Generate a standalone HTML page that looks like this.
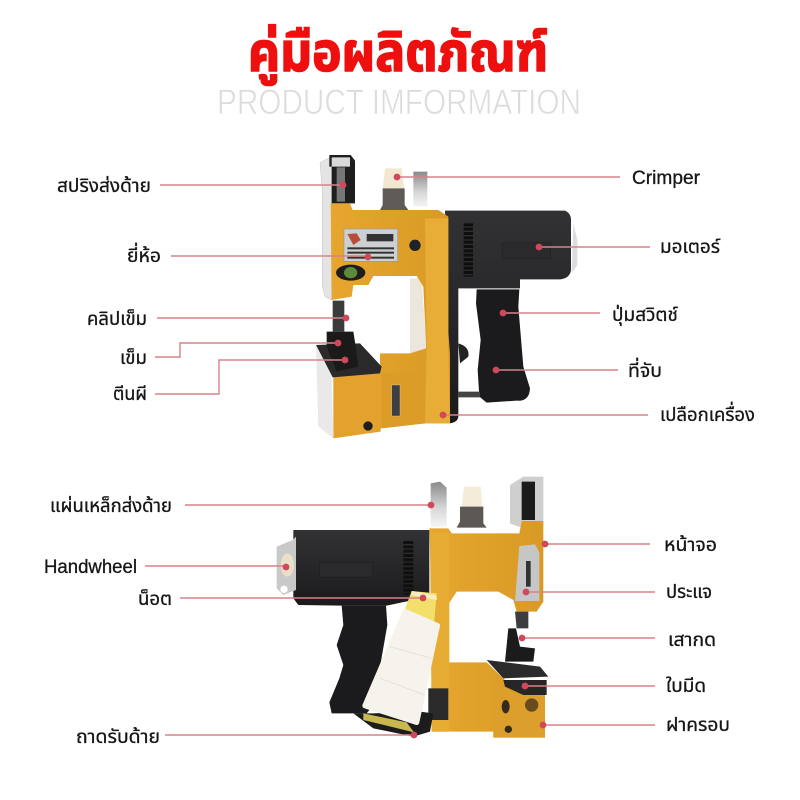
<!DOCTYPE html>
<html lang="th"><head><meta charset="utf-8"><title>คู่มือผลิตภัณฑ์</title>
<style>html,body{margin:0;padding:0;background:#fff}svg{display:block}
.l{font-family:"Liberation Sans","Noto Sans Thai","Noto Sans CJK SC",sans-serif;font-size:19px;fill:#161616;stroke:#161616;stroke-width:.3}
</style></head><body>
<svg xmlns="http://www.w3.org/2000/svg" width="800" height="800" viewBox="0 0 800 800">
<defs>
<linearGradient id="s" x1="0" y1="0" x2="0" y2="1"><stop offset="0" stop-color="#8a8a8a"/><stop offset=".6" stop-color="#d8d8d8"/><stop offset="1" stop-color="#f5f5f5"/></linearGradient>
<linearGradient id="b" x1="0" y1="0" x2="0" y2="1"><stop offset="0" stop-color="#323234"/><stop offset=".7" stop-color="#222224"/><stop offset="1" stop-color="#1a1a1c"/></linearGradient>
<linearGradient id="y" x1="0" y1="0" x2="1" y2="0"><stop offset="0" stop-color="#e6a62f"/><stop offset="1" stop-color="#d99a25"/></linearGradient>
</defs>
<rect width="800" height="800" fill="#fff"/>
<text x="398" y="71" text-anchor="middle" font-family="Liberation Sans,Noto Sans Thai,sans-serif" font-size="54" font-weight="bold" fill="#ee0f0f" stroke="#ee0f0f" stroke-width="1.6" textLength="300" lengthAdjust="spacingAndGlyphs">คู่มือผลิตภัณฑ์</text>
<text x="217" y="114" font-family="Liberation Sans,sans-serif" font-size="35" fill="#dcdcdc" stroke="#fff" stroke-width=".7" paint-order="fill" textLength="364" lengthAdjust="spacingAndGlyphs">PRODUCT IMFORMATION</text>

<!-- top machine -->
<g transform="translate(290,140) scale(.33333)">
<path d="M370 95H412V200H370Z" fill="url(#s)"/>
<path d="M90 68L125 50V480L105 470L97 440V150Z" fill="#e4e4e4" stroke="#aaa"/>
<path d="M118 45H182L195 62V190H125V80H118Z" fill="#1e1e1e"/>
<path d="M125 52H180V80H125Z" fill="#d9d9d9"/><path d="M140 82H165V185H140Z" fill="#777"/>
<path d="M285 85H335L342 145H278Z" fill="#f3e7d2"/><path d="M278 145H344V195L355 210H270L278 195Z" fill="#5f5b56"/>
<path d="M850 250L862 300V375L845 400Z" fill="#ddd"/>
<path d="M465 212H825Q843 220 843 240V390Q840 415 810 418H690V445H505V830Q503 848 478 850Z" fill="url(#b)"/>
<path d="M560 448H688L685 500L700 680L720 745Q718 785 680 782L590 788L568 770L563 690L572 600L558 490Z" fill="#1b1b1d"/>
<path d="M505 755H570V772H505Z" fill="#444"/><path d="M505 610Q540 620 535 650L510 670Z" fill="#222"/>
<path d="M535 250V410" stroke="#0e0e0e" stroke-width="28" stroke-dasharray="9 4" fill="none"/><rect x="636" y="308" width="146" height="48" fill="#2a2a2c" stroke="#1a1a1a"/>
<path d="M360 415H395L410 640H360Z" fill="#ece6dc"/>
<path d="M122 190H180L188 210H445L475 230V575L480 640V850H405L270 865V640H360L408 625L408 610L400 440L380 408H250L235 435H190L185 470L125 480Z" fill="url(#y)"/>
<path d="M405 235H475V620L480 850H405L410 620Z" fill="#e8ad37"/>
<path d="M275 700L390 690L405 700V850L275 865Z" fill="#dc9c28"/>
<path d="M130 710L272 695V875L130 895Z" fill="#e3a22e"/>
<path d="M78 618L125 710L130 895L85 860Z" fill="#e9e9e9"/>
<path d="M78 615L210 610L275 680L270 700L128 712Z" fill="#2a2a2a"/>
<path d="M160 575H190L198 625L205 680L140 695L110 620L110 575Z" fill="#1a1a1a"/>
<path d="M128 482H163V575H128Z" fill="#3b3b3b"/>
<rect x="162" y="267" width="161" height="97" fill="#cdd0d2" stroke="#999" stroke-width="2"/>
<path d="M172 282L200 280L212 300L190 315Z" fill="#b94c3a"/>
<g fill="#333"><rect x="172" y="322" width="140" height="6"/><rect x="172" y="335" width="140" height="6"/><rect x="172" y="350" width="140" height="6"/><rect x="230" y="282" width="80" height="22"/></g>
<ellipse cx="182" cy="398" rx="44" ry="24" fill="#1d1d1d"/><ellipse cx="182" cy="398" rx="20" ry="17" fill="#5c8a3b"/>
<circle cx="375" cy="316" r="17" fill="#1f2226"/>
<rect x="305" y="735" width="25" height="93" fill="#3f3f3f" stroke="#ddd"/>
<circle cx="234" cy="858" r="14" fill="#1d1d1d"/>
</g>

<!-- bottom machine -->
<g transform="translate(260,465) scale(.33333)">
<path d="M512 55L540 50L560 68V185H512Z" fill="url(#s)"/>
<path d="M612 65H662L668 125H605Z" fill="#f4ecd8"/><path d="M600 125H670V175L680 188H590L600 170Z" fill="#5c5853"/>
<path d="M750 60L790 35H850V185H775L750 175Z" fill="#cfcfcf"/><path d="M785 50H825V165H785Z" fill="#1b1b1b"/>
<path d="M100 195H508V395L380 422H245L115 420L100 400Z" fill="url(#b)"/>
<path d="M98 225L50 245V370L70 390L108 375V215Z" fill="#c9c9c9"/><ellipse cx="82" cy="300" rx="20" ry="35" fill="#eadfc9"/><circle cx="72" cy="373" r="11" fill="#fff"/>
<path d="M445 228V388" stroke="#0f0f0f" stroke-width="30" stroke-dasharray="9 4" fill="none"/><rect x="178" y="292" width="160" height="44" fill="#2a2a2c" stroke="#111"/>
<path d="M245 422H378L382 480L340 720L320 745L275 745L215 745L208 712L238 640L250 600L230 540L250 480Z" fill="#1b1b1d"/>
<path d="M508 190H565L575 205H778L785 168H850V410L830 440H770L760 405L715 380H590L567 415V592H680L735 645L855 660V818H700V800H565H515V400Z" fill="url(#y)"/>
<path d="M510 205H568V800H515Z" fill="#e7ac34"/>
<path d="M700 660H855V818H700Z" fill="#dd9f2b"/>
<path d="M778 243L825 238L838 262V408H765Z" fill="#c6c6c6"/><path d="M798 288H812V365H798Z" fill="#333"/>
<path d="M765 440H805V490H770Z" fill="#3d3d3d"/>
<path d="M745 490L768 490L780 545L825 550L820 590L735 590Z" fill="#1b1b1b"/>
<path d="M680 585L840 605L865 635L730 640Z" fill="#2b2b2b"/>
<path d="M730 645H860V690H790L735 665Z" fill="#262626"/>
<ellipse cx="737" cy="725" rx="12" ry="20" fill="#332b1e"/><circle cx="745" cy="793" r="11" fill="#332b1e"/><circle cx="815" cy="720" r="20" fill="#6a4b1f"/>
<path d="M505 670H565V765H505Z" fill="#2b2b2b"/>
<path d="M280 745L340 745L480 740L520 745L510 800L460 815L340 790Z" fill="#1c1c1c"/>
<path d="M310 745L440 772L462 802L310 765Z" fill="#c9b850"/>
<path d="M455 378L530 385L522 480L432 440Z" fill="#f3e06a"/>
<path d="M455 378L530 392V405L455 390Z" fill="#f6eccb"/>
<path d="M436 440L532 482L470 772L315 722Z" fill="#f5f3ec" stroke="#f5f3ec" stroke-width="16" stroke-linejoin="round"/>
<path d="M390 545L515 580M360 640L495 690" stroke="#e6e3d9" stroke-width="3" fill="none"/>
</g>

<!-- connectors -->
<g stroke="#d8828a" stroke-width="1.4" fill="none">
<path d="M160 185H343M171 256H368M157 318H346M155 357H180V343H337M155 394H219V360H345"/>
<path d="M397 177H620M539 247H650M503 313H600M496 370H618M443 415H648"/>
<path d="M185 505H431M145 566H286M180 598H423M165 735H414"/>
<path d="M545 544H650M526 592H655M522 638H655M525 686H655M543 725H655"/>
</g>
<g fill="#d1485c">
<circle cx="343" cy="185" r="3.4"/><circle cx="368" cy="257" r="3.4"/><circle cx="346" cy="318" r="3.4"/><circle cx="338" cy="343" r="3.4"/><circle cx="345" cy="360" r="3.4"/>
<circle cx="397" cy="177" r="3.4"/><circle cx="539" cy="247" r="3.4"/><circle cx="503" cy="313" r="3.4"/><circle cx="496" cy="370" r="3.4"/><circle cx="443" cy="415" r="3.4"/>
<circle cx="431" cy="505" r="3.4"/><circle cx="286" cy="567" r="3.4"/><circle cx="423" cy="598" r="3.4"/><circle cx="414" cy="735" r="3.4"/>
<circle cx="545" cy="544" r="3.4"/><circle cx="526" cy="592" r="3.4"/><circle cx="522" cy="638" r="3.4"/><circle cx="525" cy="686" r="3.4"/><circle cx="543" cy="725" r="3.4"/>
</g>

<!-- labels -->
<g>
<text class="l" x="57" y="192" textLength="94" lengthAdjust="spacingAndGlyphs">สปริงส่งด้าย</text>
<text class="l" x="127" y="262" textLength="34" lengthAdjust="spacingAndGlyphs">ยี่ห้อ</text>
<text class="l" x="87" y="325" textLength="60" lengthAdjust="spacingAndGlyphs">คลิปเข็ม</text>
<text class="l" x="120" y="364" textLength="27" lengthAdjust="spacingAndGlyphs">เข็ม</text>
<text class="l" x="113" y="400" textLength="34" lengthAdjust="spacingAndGlyphs">ตีนผี</text>
<text class="l" x="632" y="184" textLength="68" lengthAdjust="spacingAndGlyphs">Crimper</text>
<text class="l" x="660" y="253" textLength="60" lengthAdjust="spacingAndGlyphs">มอเตอร์</text>
<text class="l" x="612" y="321" textLength="66" lengthAdjust="spacingAndGlyphs">ปุ่มสวิตช์</text>
<text class="l" x="628" y="377" textLength="34" lengthAdjust="spacingAndGlyphs">ที่จับ</text>
<text class="l" x="660" y="421" textLength="95" lengthAdjust="spacingAndGlyphs">เปลือกเครื่อง</text>
<text class="l" x="50" y="512" textLength="122" lengthAdjust="spacingAndGlyphs">แผ่นเหล็กส่งด้าย</text>
<text class="l" x="44" y="573" textLength="93" lengthAdjust="spacingAndGlyphs">Handwheel</text>
<text class="l" x="138" y="605" textLength="34" lengthAdjust="spacingAndGlyphs">น็อต</text>
<text class="l" x="76" y="743" textLength="84" lengthAdjust="spacingAndGlyphs">ถาดรับด้าย</text>
<text class="l" x="664" y="551" textLength="53" lengthAdjust="spacingAndGlyphs">หน้าจอ</text>
<text class="l" x="666" y="598" textLength="46" lengthAdjust="spacingAndGlyphs">ประแจ</text>
<text class="l" x="668" y="646" textLength="48" lengthAdjust="spacingAndGlyphs">เสากด</text>
<text class="l" x="666" y="692" textLength="40" lengthAdjust="spacingAndGlyphs">ใบมีด</text>
<text class="l" x="666" y="731" textLength="64" lengthAdjust="spacingAndGlyphs">ฝาครอบ</text>
</g>
</svg>
</body></html>
